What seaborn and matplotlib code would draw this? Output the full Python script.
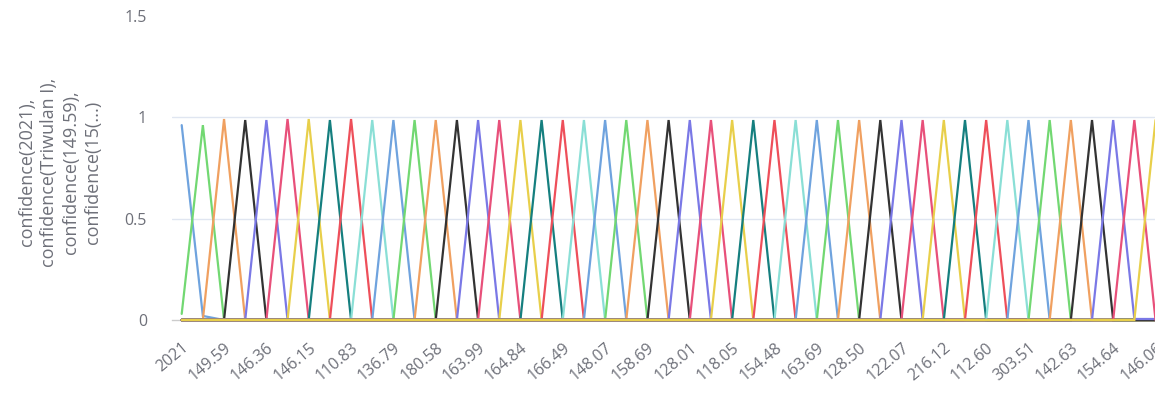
import numpy as np
import pandas as pd
import matplotlib
matplotlib.use("Agg")
import matplotlib.pyplot as plt
import seaborn as sns

# ---------------- data ----------------
n_categories = 47
category_index = list(range(n_categories))
tick_labels = ["2021", "149.59", "146.36", "146.15", "110.83", "136.79", "180.58",
               "163.99", "164.84", "166.49", "148.07", "158.69", "128.01", "118.05",
               "154.48", "163.69", "128.50", "122.07", "216.12", "112.60", "303.51",
               "142.63", "154.64", "146.06"]
# each series peaks at its own category
peak_values = [0.96, 0.96, 0.99, 0.985, 0.985, 0.99, 0.99, 0.985, 0.99, 0.985,
               0.985, 0.985, 0.985, 0.985, 0.985, 0.985, 0.985, 0.985, 0.985, 0.985,
               0.985, 0.985, 0.985, 0.985, 0.985, 0.985, 0.985, 0.985, 0.985, 0.985,
               0.985, 0.985, 0.985, 0.985, 0.985, 0.985, 0.985, 0.985, 0.985, 0.985,
               0.985, 0.985, 0.985, 0.985, 0.985, 0.985, 0.985]
# small off-peak confidences: (series, category, value)
offpeak_values = [(0, 1, 0.02), (1, 0, 0.03), (44, 45, 0.005), (44, 46, 0.005)]
palette10 = ["#6FA3DE", "#72D872", "#F0A060", "#333333", "#7A78E6",
             "#E8507A", "#E8CF4A", "#157F7F", "#EE4F5A", "#8ADFD6"]
y_ticks = [0, 0.5, 1, 1.5]
y_tick_labels = ["0", "0.5", "1", "1.5"]

rows = []
for s in range(len(peak_values)):
    for c in category_index:
        v = peak_values[s] if c == s else 0.0
        rows.append({"series": s, "cat": c, "value": v})
df = pd.DataFrame(rows)
for s, c, v in offpeak_values:
    df.loc[(df.series == s) & (df.cat == c), "value"] = v
colors = {s: palette10[s % 10] for s in range(len(peak_values))}

# ---------------- figure ----------------
sns.set_theme(style="white")
plt.rcParams["font.family"] = ["Open Sans", "DejaVu Sans"]

W, H = 1155, 398
fig = plt.figure(figsize=(W / 100, H / 100), dpi=100)
left_px, right_px, bottom_px, top_px = 172, 1170, 320, 15.5
ax = fig.add_axes([left_px / W, (H - bottom_px) / H,
                   (right_px - left_px) / W, (bottom_px - top_px) / H])

for gy in [0.5, 1.0]:
    ax.axhline(gy, color="#E0E6F1", linewidth=1, zorder=1)

sns.lineplot(data=df, x="cat", y="value", hue="series", palette=colors,
             estimator=None, sort=False, legend=False, linewidth=1.6, ax=ax)
for ln in ax.lines[2:]:
    ln.set_clip_on(False)
    ln.set_solid_joinstyle("miter")
    ln.set_zorder(3)

c0_px, step_px = 181.7, 21.17
ax.set_xlim(-(c0_px - left_px) / step_px, (right_px - c0_px) / step_px)
ax.set_ylim(0, 1.5)

ax.set_xticks(list(range(0, n_categories, 2)))
ax.set_xticklabels(tick_labels, rotation=40, ha="right", rotation_mode="anchor")
ax.set_yticks(y_ticks)
ax.set_yticklabels(y_tick_labels)
ax.tick_params(axis="both", length=0, labelsize=11.5, labelcolor="#6E7079")
ax.tick_params(axis="y", pad=18)
ax.tick_params(axis="x", pad=14)
ax.set_xlabel("")
ax.set_ylabel("")
ax.grid(False)
for side in ["top", "right", "left"]:
    ax.spines[side].set_visible(False)
ax.spines["bottom"].set_color("#CCCCCC")
ax.spines["bottom"].set_linewidth(1)

fig.text(60 / W, 1 - 172 / H,
         "confidence(2021),\nconfidence(Triwulan I),\nconfidence(149.59),\nconfidence(15(...)",
         rotation=90, ha="center", va="center", multialignment="center",
         fontsize=13, color="#6E7079", linespacing=1.3)

fig.savefig("out.png", dpi=100)
